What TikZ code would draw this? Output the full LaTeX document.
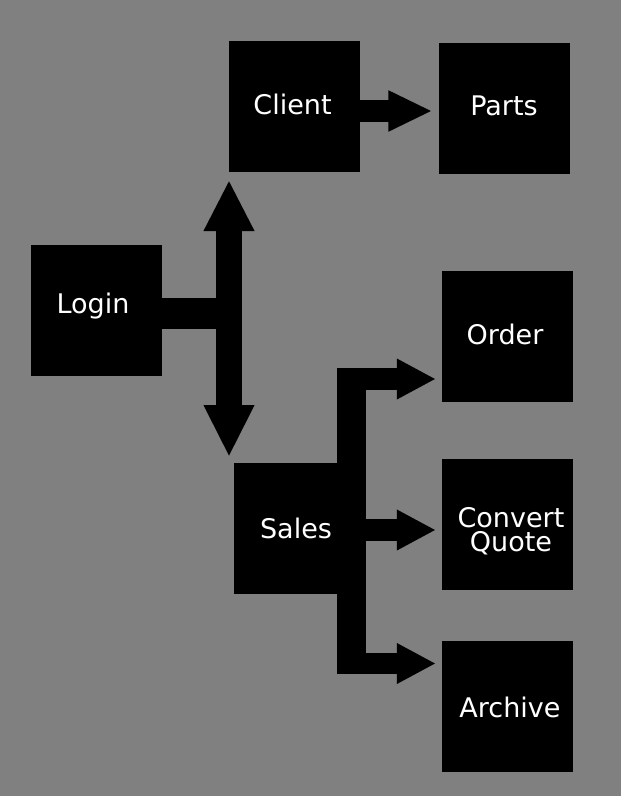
\documentclass[tikz,border=0pt]{standalone}
\usepackage{fontspec}
\setmainfont{DejaVu Sans}
\usetikzlibrary{arrows.meta,calc}
\definecolor{bg}{RGB}{128,128,128}
\begin{document}
\begin{tikzpicture}[x=1pt,y=-1pt,
  box/.style={fill=black,minimum width=131pt,minimum height=131pt,inner sep=0pt},
  lbl/.style={text=white,inner sep=0pt,align=center,font=\fontsize{27}{24.5}\selectfont},
  shaft/.style={line width=#1,black,line cap=butt},
  headA/.style={-{Triangle[width=38pt,length=44pt]}},
  headB/.style={-{Triangle[width=38pt,length=39pt]}}]
\fill[bg] (0,0) rectangle (621,796);
\useasboundingbox (0,0) rectangle (621,796);
\node[box] (client) at (294.5,106.5) {};
\node[lbl] (clientT) at (292.5,104.5) {Client};
\node[box] (parts) at (504,108.5) {};
\node[lbl] (partsT) at (504,106) {Parts};
\node[box] (login) at (96.5,310.5) {};
\node[lbl] (loginT) at (93,306.5) {Login};
\node[box] (order) at (507.5,336.5) {};
\node[lbl] (orderT) at (505,334) {Order};
\node[box] (sales) at (299.5,528.5) {};
\node[lbl] (salesT) at (296,528.5) {Sales};
\node[box] (convert) at (507.5,524.5) {};
\node[lbl] (convertT) at (511,531) {Convert\\Quote};
\node[box] (archive) at (507.5,706.5) {};
\node[lbl] (archiveT) at (510,707) {Archive};
% Client -> Parts
\draw[shaft=22pt,headA] ($(client.east)+(0,4.5)$) -- ($(parts.west |- 0,111)+(-6,0)$);
% Login junction
\coordinate (jtop) at (229,180);
\coordinate (jbot) at (229,457);
\draw[shaft=31pt] (login.east |- 0,313.5) -- (235,313.5);
\draw[shaft=26pt,{Triangle[width=47pt,length=51pt]}-{Triangle[width=47pt,length=52pt]}] (jtop) -- (jbot);
% Sales tree
\coordinate (stop) at (351.5,368);
\coordinate (sbot) at (351.5,674);
\draw[shaft=29pt] (stop) -- (sbot);
\draw[shaft=22pt,headB] (337,379) -- ($(order.west |- 0,379)+(-6,0)$);
\draw[shaft=22pt,headB] (sales.east |- 0,530) -- ($(convert.west |- 0,530)+(-6,0)$);
\draw[shaft=21pt,headB] (337,663.5) -- ($(archive.west |- 0,663.5)+(-6,0)$);
\end{tikzpicture}
\end{document}
